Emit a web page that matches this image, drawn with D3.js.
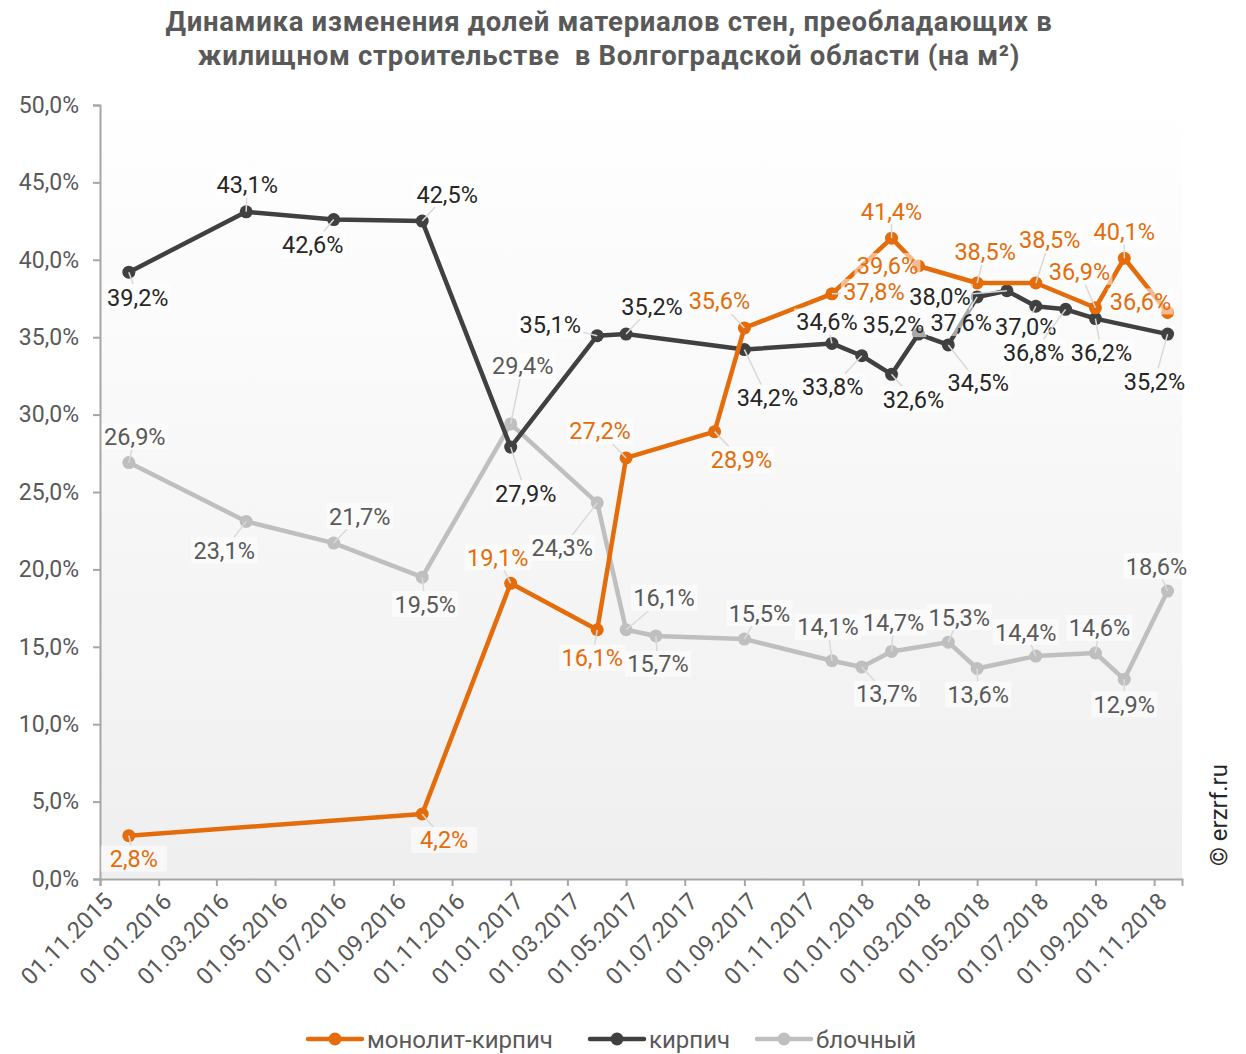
<!DOCTYPE html>
<meta charset="utf-8">
<style>
  html, body { margin: 0; padding: 0; background: #fff; }
  svg text { font-family: Roboto, "Noto Sans", sans-serif; }
</style>
<script src="https://d3js.org/d3.v7.min.js"></script>
<div id="chart"></div>
<script>
// ---- data ----
const dates = ["2015-12-01","2016-04-01","2016-07-01","2016-10-01","2017-01-01","2017-04-01",
  "2017-05-01","2017-06-01","2017-08-01","2017-09-01","2017-12-01","2018-01-01","2018-02-01",
  "2018-03-01","2018-04-01","2018-05-01","2018-06-01","2018-07-01","2018-08-01","2018-09-01",
  "2018-10-01","2018-11-15"];
const monolith = [2.8, null, null, 4.2, 19.1, 16.1, 27.2, null, 28.9, 35.6, 37.8, null, 41.4,
  39.6, null, 38.5, null, 38.5, null, 36.9, 40.1, 36.6];
const brick = [39.2, 43.1, 42.6, 42.5, 27.9, 35.1, 35.2, null, null, 34.2, 34.6, 33.8, 32.6,
  35.2, 34.5, 37.6, 38.0, 37.0, 36.8, 36.2, null, 35.2];
const block = [26.9, 23.1, 21.7, 19.5, 29.4, 24.3, 16.1, 15.7, null, 15.5, 14.1, 13.7, 14.7,
  null, 15.3, 13.6, null, 14.4, null, 14.6, 12.9, 18.6];
const seriesNames = ["монолит-кирпич", "кирпич", "блочный"];
const yTicks = [0, 5, 10, 15, 20, 25, 30, 35, 40, 45, 50];
const xTicks = ["2015-11-01","2016-01-01","2016-03-01","2016-05-01","2016-07-01","2016-09-01",
  "2016-11-01","2017-01-01","2017-03-01","2017-05-01","2017-07-01","2017-09-01","2017-11-01",
  "2018-01-01","2018-03-01","2018-05-01","2018-07-01","2018-09-01","2018-11-01"];

// label offsets (dx, dy of label centre from the point), per series
const monolithLbl = [[5,23],null,null,[22,26],[-13,-26],[-5,28],[-26,-27],null,[27,28],[-25,-27],
  [42,-2],null,[0,-27],[-31,0],null,[8,-31],null,[14,-43],null,[-16,-36],[0,-27],[-27,-11]];
const brickLbl = [[9,25],[1,-27],[-21,25],[25,-27],[15,46],[-47,-11],[26,-28],null,null,[23,48],
  [-5,-22],[-29,31],[22,25],[-25,-10],[30,38],[-16,26],[-67,6],[-10,20],[-32,43],[6,34],null,[-13,47]];
const blockLbl = [[6,-26],[-22,29],[26,-27],[3,27],[12,-58],[-35,45],[38,-32],[2,28],null,[15,-26],
  [-4,-34],[25,27],[2,-29],null,[11,-25],[1,26],null,[-10,-24],null,[4,-25],[0,25],[-11,-25]];

const colors = ["#E46C0A", "#404040", "#BFBFBF"];
const labelColors = ["#E46C0A", "#262626", "#595959"];

// ---- layout ----
const W = 1246, H = 1054;
const plot = {left: 100, right: 1182, top: 105, bottom: 879};
const parse = d3.timeParse("%Y-%m-%d");

const svg = d3.select("#chart").append("svg")
  .attr("width", W).attr("height", H);

const x = d3.scaleTime()
  .domain([parse("2015-11-01"), parse("2018-11-30")])
  .range([plot.left, plot.right]);
const y = d3.scaleLinear().domain([0, 50]).range([plot.bottom, plot.top]);

// plot background gradient
const grad = svg.append("defs").append("linearGradient")
  .attr("id", "bg").attr("x1", 0).attr("y1", 0).attr("x2", 0).attr("y2", 1);
grad.append("stop").attr("offset", "0%").attr("stop-color", "#ffffff");
grad.append("stop").attr("offset", "100%").attr("stop-color", "#efefef");
svg.append("rect")
  .attr("x", plot.left).attr("y", plot.top - 10)
  .attr("width", plot.right - plot.left).attr("height", plot.bottom - plot.top + 10)
  .attr("fill", "url(#bg)");

// title
const title = svg.append("text")
  .attr("text-anchor", "middle")
  .style("font-size", "27.5px").style("font-weight", "bold").style("fill", "#595959")
  .style("letter-spacing", "0.7px");
title.append("tspan").attr("x", 609).attr("y", 31)
  .text("Динамика изменения долей материалов стен, преобладающих в");
title.append("tspan").attr("x", 609).attr("y", 65)
  .text("жилищном строительстве  в Волгоградской области (на м²)")
  .style("white-space", "pre");

// axes
const yAxis = svg.append("g")
  .attr("transform", `translate(${plot.left},0)`)
  .call(d3.axisLeft(y).tickValues(yTicks).tickSize(7).tickPadding(14)
    .tickFormat(d => d.toFixed(1).replace(".", ",") + "%"));
yAxis.selectAll("text").style("font-size", "23px").style("fill", "#595959");

const xAxis = svg.append("g")
  .attr("transform", `translate(0,${plot.bottom})`)
  .call(d3.axisBottom(x).tickValues(xTicks.map(parse)).tickSize(7)
    .tickFormat(d3.timeFormat("%d.%m.%Y")));
xAxis.selectAll("text")
  .style("font-size", "23.5px").style("fill", "#595959")
  .attr("text-anchor", "end")
  .attr("dy", "0.35em")
  .attr("transform", "translate(8,18) rotate(-45)")
  .attr("x", 0).attr("y", 0);

[yAxis, xAxis].forEach(a => {
  a.select(".domain").attr("stroke", "#a6a6a6").attr("stroke-width", 2);
  a.selectAll(".tick line").attr("stroke", "#a6a6a6").attr("stroke-width", 2);
});

// series
const allSeries = [monolith, brick, block];
const allLbl = [monolithLbl, brickLbl, blockLbl];
const line = d3.line().x(d => x(d.date)).y(d => y(d.value));

const seriesData = allSeries.map((vals, s) =>
  vals.map((v, i) => ({date: parse(dates[i]), value: v, off: allLbl[s][i], s: s}))
      .filter(d => d.value !== null));

// draw lines in reverse so the first series is on top
[2, 1, 0].forEach(s => {
  const g = svg.append("g");
  g.append("path").datum(seriesData[s])
    .attr("d", line).attr("fill", "none")
    .attr("stroke", colors[s]).attr("stroke-width", 4.5)
    .attr("stroke-linejoin", "round");
  g.selectAll("circle").data(seriesData[s]).join("circle")
    .attr("cx", d => x(d.date)).attr("cy", d => y(d.value))
    .attr("r", 6.5).attr("fill", colors[s]);
});

// data labels
const fmt = v => v.toFixed(1).replace(".", ",") + "%";
const lblLayer = svg.append("g");
const lblW = 66, lblH = 26;
seriesData.forEach((pts, s) => {
  pts.forEach(d => {
    const px = x(d.date), py = y(d.value);
    const cx = px + d.off[0], cy = py + d.off[1];
    // leader line to nearest box edge
    const dx = px - cx, dy = py - cy;
    const t = Math.min(Math.abs(dx) > 0 ? (lblW / 2) / Math.abs(dx) : Infinity,
                       Math.abs(dy) > 0 ? (lblH / 2) / Math.abs(dy) : Infinity);
    if (t < 1) {
      const ex = cx + dx * t, ey = cy + dy * t;
      const len = Math.hypot(px - ex, py - ey);
      if (len > 5) {
        lblLayer.append("line")
          .attr("x1", ex).attr("y1", ey).attr("x2", px).attr("y2", py)
          .attr("stroke", "#d9d9d9").attr("stroke-width", 1.5);
      }
    }
    lblLayer.append("rect")
      .attr("x", cx - lblW / 2).attr("y", cy - lblH / 2)
      .attr("width", lblW).attr("height", lblH)
      .attr("fill", "#ffffff").attr("fill-opacity", 0.55);
    lblLayer.append("text")
      .attr("x", cx).attr("y", cy).attr("dy", "0.36em")
      .attr("text-anchor", "middle")
      .style("font-size", "23.5px").style("fill", labelColors[s])
      .text(fmt(d.value));
  });
});

// legend
const legendItems = [
  {name: seriesNames[0], x: 308},
  {name: seriesNames[1], x: 590},
  {name: seriesNames[2], x: 757}
];
const lg = svg.append("g").attr("transform", "translate(0,1039)");
legendItems.forEach((it, s) => {
  lg.append("line").attr("x1", it.x).attr("x2", it.x + 54)
    .attr("stroke", colors[s]).attr("stroke-width", 4.5).attr("stroke-linecap", "round");
  lg.append("circle").attr("cx", it.x + 27).attr("r", 6.5).attr("fill", colors[s]);
  lg.append("text").attr("x", it.x + 59).attr("dy", "0.36em")
    .style("font-size", "24px").style("fill", "#595959").text(it.name);
});

// copyright
svg.append("text")
  .attr("transform", "translate(1227,866) rotate(-90)")
  .style("font-size", "24px").style("fill", "#262626")
  .text("© erzrf.ru");
</script>
